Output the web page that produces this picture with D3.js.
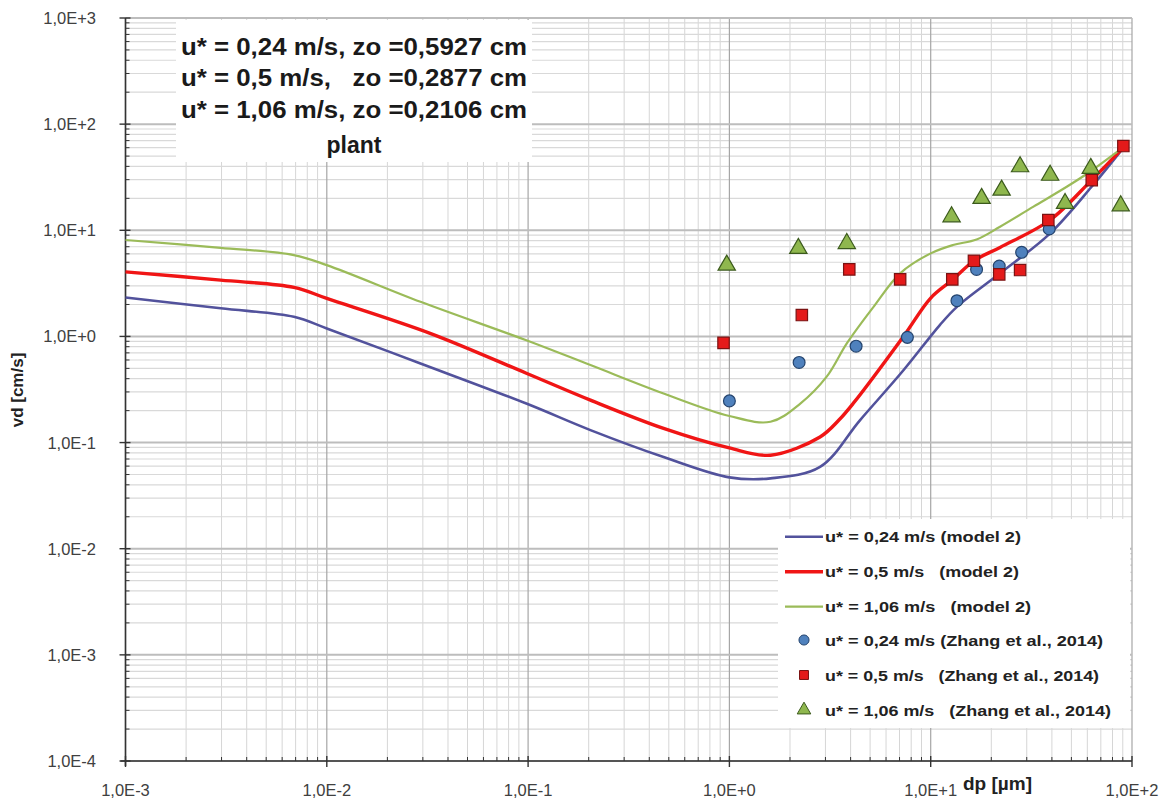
<!DOCTYPE html>
<html><head><meta charset="utf-8">
<script src="https://cdn.jsdelivr.net/npm/d3@7"></script>
<style>
html,body{margin:0;padding:0;background:#fff;}
svg{display:block;}
text{font-family:"Liberation Sans",Arial,sans-serif;}
</style></head>
<body>
<svg id="chart" width="1162" height="803"></svg>
<script>
// ---------- data ----------
const xTickValues = [1e-3, 1e-2, 1e-1, 1e0, 1e1, 1e2];
const xTickLabels = ["1,0E-3", "1,0E-2", "1,0E-1", "1,0E+0", "1,0E+1", "1,0E+2"];
const yTickValues = [1e-4, 1e-3, 1e-2, 1e-1, 1e0, 1e1, 1e2, 1e3];
const yTickLabels = ["1,0E-4", "1,0E-3", "1,0E-2", "1,0E-1", "1,0E+0", "1,0E+1", "1,0E+2", "1,0E+3"];

// model 2 curves
const model024X = [0.001, 0.00297, 0.00686, 0.01, 0.0292, 0.098, 0.204, 0.471, 1.0, 1.6, 2.82, 4.46, 7.32, 11.1, 13.5, 22.1, 39.2, 63, 92];
const model024Y = [2.33, 1.84, 1.53, 1.19, 0.556, 0.233, 0.131, 0.073, 0.047, 0.046, 0.059, 0.163, 0.48, 1.28, 1.9, 3.93, 9.35, 25.7, 62];
const model05X = [0.001, 0.00297, 0.00686, 0.01, 0.0326, 0.098, 0.204, 0.471, 1.0, 1.6, 2.82, 3.5, 4.13, 7.32, 10, 12.8, 16.4, 22.1, 39.2, 63, 92];
const model05Y = [4.06, 3.39, 2.9, 2.28, 1.07, 0.45, 0.251, 0.136, 0.089, 0.076, 0.113, 0.163, 0.235, 1.0, 2.3, 3.4, 5.16, 6.9, 12.5, 29.7, 62];
const model106X = [0.001, 0.00297, 0.00686, 0.01, 0.0292, 0.098, 0.204, 0.471, 1.0, 1.6, 2.25, 3.05, 3.83, 5.2, 7.05, 10, 12.9, 16.9, 22.1, 32.4, 47.4, 61.8, 92];
const model106Y = [8.1, 6.84, 5.84, 4.7, 2.12, 0.92, 0.537, 0.29, 0.178, 0.157, 0.233, 0.42, 0.86, 1.9, 3.93, 6.06, 7.26, 8.2, 10.8, 16.7, 25.7, 35.6, 62];

// Zhang et al., 2014 measurements
const zhang024X = [1.0, 2.22, 4.26, 7.66, 13.5, 16.9, 21.9, 28.3, 38.8];
const zhang024Y = [0.247, 0.569, 0.81, 0.98, 2.17, 4.28, 4.6, 6.2, 10.3];
const zhang05X = [0.935, 2.29, 3.94, 7.05, 12.8, 16.4, 21.9, 27.8, 38.4, 63.1, 90.6];
const zhang05Y = [0.87, 1.59, 4.28, 3.45, 3.45, 5.16, 3.84, 4.22, 12.5, 29.7, 62.2];
const zhang106X = [0.97, 2.2, 3.83, 12.7, 17.9, 22.5, 27.8, 39.2, 46.5, 62.4, 87.9];
const zhang106Y = [4.7, 6.75, 7.5, 13.4, 20, 23.9, 39.7, 33, 17.9, 38.3, 17];

const legendLabels = [
  "u* = 0,24 m/s (model 2)",
  "u* = 0,5 m/s   (model 2)",
  "u* = 1,06 m/s   (model 2)",
  "u* = 0,24 m/s (Zhang et al., 2014)",
  "u* = 0,5 m/s   (Zhang et al., 2014)",
  "u* = 1,06 m/s   (Zhang et al., 2014)"
];
const noteLines = [
  "u* = 0,24 m/s, zo =0,5927 cm",
  "u* = 0,5 m/s,   zo =0,2877 cm",
  "u* = 1,06 m/s, zo =0,2106 cm",
  "plant"
];
const xTitle = "dp [µm]";
const yTitle = "vd [cm/s]";

// ---------- drawing ----------
const svg = d3.select("#chart");
const L = 125.5, R = 1132, T = 18, B = 761;
const x = d3.scaleLog().domain([1e-3, 1e2]).range([L, R]);
const y = d3.scaleLog().domain([1e-4, 1e3]).range([B, T]);

const colBlue = "#52529c", colRed = "#f01515", colGreen = "#9bbb59";

// grid
const g = svg.append("g");
const minorX = [], minorY = [];
for (let e = -3; e < 2; e++) for (let m = 2; m <= 9; m++) minorX.push(m * Math.pow(10, e));
for (let e = -4; e < 3; e++) for (let m = 2; m <= 9; m++) minorY.push(m * Math.pow(10, e));
g.selectAll(".mx").data(minorX).join("line")
  .attr("x1", d => x(d)).attr("x2", d => x(d)).attr("y1", T).attr("y2", B)
  .attr("stroke", "#d6d6d6").attr("stroke-width", 1);
g.selectAll(".my").data(minorY).join("line")
  .attr("y1", d => y(d)).attr("y2", d => y(d)).attr("x1", L).attr("x2", R)
  .attr("stroke", "#d9d9d9").attr("stroke-width", 1.2);
g.selectAll(".Mx").data(xTickValues).join("line")
  .attr("x1", d => x(d)).attr("x2", d => x(d)).attr("y1", T).attr("y2", B)
  .attr("stroke", "#a6a6a6").attr("stroke-width", 1.2);
g.selectAll(".My").data(yTickValues).join("line")
  .attr("y1", d => y(d)).attr("y2", d => y(d)).attr("x1", L).attr("x2", R)
  .attr("stroke", "#bdbdbd").attr("stroke-width", 2);

// annotation box
svg.append("rect").attr("x", 176).attr("y", 20).attr("width", 356).attr("height", 142).attr("fill", "#fff");
svg.append("g").selectAll("text").data(noteLines).join("text")
  .attr("x", 354).attr("y", (d, i) => [47, 78, 110, 145][i])
  .attr("text-anchor", "middle").attr("dominant-baseline", "central")
  .style("white-space", "pre")
  .attr("font-size", 23).attr("font-weight", "bold").attr("fill", "#1a1a1a")
  .attr("textLength", (d, i) => i < 3 ? 346 : null)
  .attr("lengthAdjust", "spacingAndGlyphs")
  .text(d => d);

// legend box (background)
svg.append("rect").attr("x", 778).attr("y", 519).attr("width", 352).attr("height", 209).attr("fill", "#fff");

// axes
const ax = svg.append("g").attr("stroke", "#333");
ax.append("line").attr("x1", L).attr("x2", L).attr("y1", T).attr("y2", B + 5).attr("stroke-width", 1.6);
ax.append("line").attr("x1", L - 5).attr("x2", R).attr("y1", B).attr("y2", B).attr("stroke-width", 1.6);
ax.selectAll(".tyM").data(yTickValues).join("line")
  .attr("x1", L - 6).attr("x2", L + 5).attr("y1", d => y(d)).attr("y2", d => y(d)).attr("stroke-width", 1.4);
ax.selectAll(".tym").data(minorY).join("line")
  .attr("x1", L).attr("x2", L + 4).attr("y1", d => y(d)).attr("y2", d => y(d)).attr("stroke-width", 1);
ax.selectAll(".txM").data(xTickValues).join("line")
  .attr("y1", B - 5).attr("y2", B + 6).attr("x1", d => x(d)).attr("x2", d => x(d)).attr("stroke-width", 1.4);
ax.selectAll(".txm").data(minorX).join("line")
  .attr("y1", B - 4).attr("y2", B).attr("x1", d => x(d)).attr("x2", d => x(d)).attr("stroke-width", 1);

// tick labels
svg.append("g").selectAll("text").data(yTickValues).join("text")
  .attr("x", 96).attr("y", d => y(d)).attr("text-anchor", "end").attr("dominant-baseline", "central")
  .attr("font-size", 16.5).attr("fill", "#404040")
  .text((d, i) => yTickLabels[i]);
svg.append("g").selectAll("text").data(xTickValues).join("text")
  .attr("x", d => x(d)).attr("y", 790).attr("text-anchor", "middle").attr("dominant-baseline", "central")
  .attr("font-size", 16.5).attr("fill", "#404040")
  .text((d, i) => xTickLabels[i]);

// axis titles
svg.append("text").attr("transform", "translate(17,390) rotate(-90)")
  .attr("text-anchor", "middle").attr("dominant-baseline", "central")
  .attr("font-size", 17).attr("font-weight", "bold").attr("fill", "#222").text(yTitle);
svg.append("text").attr("x", 963).attr("y", 783).attr("dominant-baseline", "central")
  .attr("font-size", 19).attr("font-weight", "bold").attr("fill", "#222").text(xTitle);

// model lines
const line = d3.line().x(d => x(d[0])).y(d => y(d[1])).curve(d3.curveCatmullRom.alpha(0.5));
const models = [
  { xs: model024X, ys: model024Y, color: colBlue, w: 2.6 },
  { xs: model05X, ys: model05Y, color: colRed, w: 3.4 },
  { xs: model106X, ys: model106Y, color: colGreen, w: 2.2 }
];
models.forEach(m => {
  svg.append("path").attr("d", line(d3.zip(m.xs, m.ys)))
    .attr("fill", "none").attr("stroke", m.color).attr("stroke-width", m.w)
    .attr("stroke-linejoin", "round");
});

// markers
const circleSym = d3.symbol().type(d3.symbolCircle).size(110);
const squareSym = d3.symbol().type(d3.symbolSquare).size(130);
const triSym = d3.symbol().type(d3.symbolTriangle).size(130);
const markerSets = [
  { xs: zhang024X, ys: zhang024Y, sym: circleSym, fill: "#4f81bd", stroke: "#24446e" },
  { xs: zhang05X, ys: zhang05Y, sym: squareSym, fill: "#e41a1a", stroke: "#7a1212" },
  { xs: zhang106X, ys: zhang106Y, sym: triSym, fill: "#8fb74e", stroke: "#3b5a1c" }
];
markerSets.forEach(s => {
  svg.append("g").selectAll("path").data(d3.zip(s.xs, s.ys)).join("path")
    .attr("d", s.sym).attr("transform", d => `translate(${x(d[0])},${y(d[1])})`)
    .attr("fill", s.fill).attr("stroke", s.stroke).attr("stroke-width", 1.2);
});

// legend
const legRows = [536.7, 571.7, 606.7, 640, 675, 710];
const legWidths = [196, 194, 206, 278, 274, 286];
const lg = svg.append("g");
legendLabels.forEach((lab, i) => {
  const yy = legRows[i];
  if (i < 3) {
    lg.append("line").attr("x1", 785).attr("x2", 823).attr("y1", yy).attr("y2", yy)
      .attr("stroke", models[i].color).attr("stroke-width", models[i].w);
  } else {
    const s = markerSets[i - 3];
    lg.append("path").attr("d", d3.symbol().type([d3.symbolCircle, d3.symbolSquare, d3.symbolTriangle][i - 3]).size(80))
      .attr("transform", `translate(804,${yy})`).attr("fill", s.fill).attr("stroke", s.stroke).attr("stroke-width", 1);
  }
  lg.append("text").attr("x", 825).attr("y", yy).attr("dominant-baseline", "central")
    .style("white-space", "pre").attr("font-size", 15).attr("font-weight", "bold").attr("fill", "#222")
    .attr("textLength", legWidths[i]).attr("lengthAdjust", "spacingAndGlyphs")
    .text(lab);
});
</script>
</body></html>
